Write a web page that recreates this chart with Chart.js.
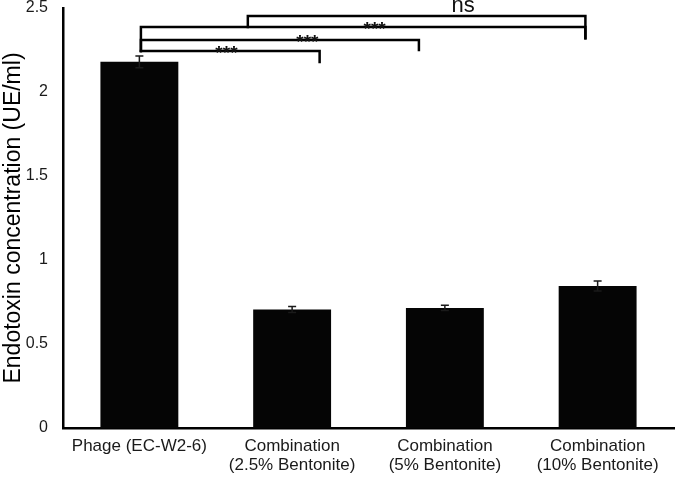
<!DOCTYPE html>
<html>
<head>
<meta charset="utf-8">
<script src="https://cdn.jsdelivr.net/npm/chart.js@4.4.1/dist/chart.umd.min.js"></script>
<style>
  html, body { margin: 0; padding: 0; background: #fff; }
  #wrap { width: 676px; height: 477px; }
</style>
</head>
<body>
<div id="wrap"><canvas id="endoChart"></canvas></div>
<script>
// data
const categories = [
  "Phage (EC-W2-6)",
  ["Combination", "(2.5% Bentonite)"],
  ["Combination", "(5% Bentonite)"],
  ["Combination", "(10% Bentonite)"]
];
const endotoxin = [2.18, 0.705, 0.715, 0.845];
const endotoxinErr = [0.035, 0.018, 0.015, 0.03];

// significance brackets (x in category index, y in UE/ml)
const bracketLabels = ["***", "***", "***", "ns"];
const bracketFrom = [0.01, 0.01, 0.01, 0.71];
const bracketTo = [1.18, 1.83, 2.92, 2.92];
const bracketLevel = [2.244, 2.31, 2.387, 2.452];
const bracketLeftEnd = [2.244, 2.244, 2.244, 2.387];
const bracketRightEnd = [2.179, 2.25, 2.32, 2.32];
const bracketLabelX = [0.57, 1.1, 1.54, 2.12];

const errorBars = {
  id: "errorBars",
  afterDatasetsDraw(chart) {
    const { ctx, scales: { y } } = chart;
    const meta = chart.getDatasetMeta(0);
    ctx.save();
    ctx.strokeStyle = "#1a1a1a";
    ctx.lineWidth = 1.5;
    meta.data.forEach((bar, i) => {
      const top = y.getPixelForValue(endotoxin[i] + endotoxinErr[i]);
      const bot = y.getPixelForValue(endotoxin[i] - endotoxinErr[i]);
      ctx.beginPath();
      ctx.moveTo(bar.x, top);
      ctx.lineTo(bar.x, bot);
      ctx.moveTo(bar.x - 4, top);
      ctx.lineTo(bar.x + 4, top);
      ctx.moveTo(bar.x - 4, bot);
      ctx.lineTo(bar.x + 4, bot);
      ctx.stroke();
    });
    ctx.restore();
  }
};

const brackets = {
  id: "brackets",
  afterDraw(chart) {
    const { ctx, scales: { x, y } } = chart;
    ctx.save();
    ctx.strokeStyle = "#000";
    ctx.lineWidth = 2.5;
    ctx.lineCap = "square";
    ctx.fillStyle = "#111";
    ctx.textAlign = "center";
    ctx.textBaseline = "alphabetic";
    bracketLabels.forEach((lab, i) => {
      const x0 = x.getPixelForValue(bracketFrom[i]);
      const x1 = x.getPixelForValue(bracketTo[i]);
      const yl = y.getPixelForValue(bracketLevel[i]);
      ctx.beginPath();
      ctx.moveTo(x0, y.getPixelForValue(bracketLeftEnd[i]));
      ctx.lineTo(x0, yl);
      ctx.lineTo(x1, yl);
      ctx.lineTo(x1, y.getPixelForValue(bracketRightEnd[i]));
      ctx.stroke();
      const tx = x.getPixelForValue(bracketLabelX[i]);
      if (lab === "ns") {
        ctx.font = '22px "Liberation Sans", Arial, sans-serif';
        ctx.fillText(lab, tx, yl - 4);
      } else {
        ctx.font = 'bold 19px "Liberation Sans", Arial, sans-serif';
        ctx.fillText(lab, tx, yl + 8);
      }
    });
    ctx.restore();
  }
};

new Chart(document.getElementById("endoChart"), {
  type: "bar",
  data: {
    labels: categories,
    datasets: [{
      data: endotoxin,
      backgroundColor: "#050505",
      borderWidth: 0,
      barPercentage: 0.51,
      categoryPercentage: 1.0
    }]
  },
  options: {
    responsive: true,
    maintainAspectRatio: false,
    animation: false,
    layout: { padding: { top: 8, right: 2, left: 0, bottom: 0 } },
    plugins: { legend: { display: false }, tooltip: { enabled: false } },
    scales: {
      x: {
        grid: { display: false, drawTicks: false },
        border: { color: "#000", width: 2.5 },
        ticks: {
          color: "#1a1a1a",
          padding: 9,
          maxRotation: 0,
          autoSkip: false,
          font: { family: '"Liberation Sans", Arial, sans-serif', size: 17, lineHeight: 1.1 }
        },
        afterFit(scale) { scale.height = 49; scale.paddingLeft = 0; scale.paddingRight = 0; }
      },
      y: {
        min: 0,
        max: 2.5,
        grid: { display: false, drawTicks: false },
        border: { color: "#000", width: 2.5 },
        ticks: {
          stepSize: 0.5,
          color: "#1a1a1a",
          padding: 15,
          font: { family: '"Liberation Sans", Arial, sans-serif', size: 16 },
          callback: (v) => String(v)
        },
        title: {
          display: true,
          text: "Endotoxin concentration (UE/ml)",
          color: "#000",
          padding: { top: 0, bottom: 0 },
          font: { family: '"Liberation Sans", Arial, sans-serif', size: 23 }
        },
        afterFit(scale) { scale.width = 63; scale.paddingTop = 0; scale.paddingBottom = 0; }
      }
    }
  },
  plugins: [errorBars, brackets]
});
</script>
</body>
</html>
